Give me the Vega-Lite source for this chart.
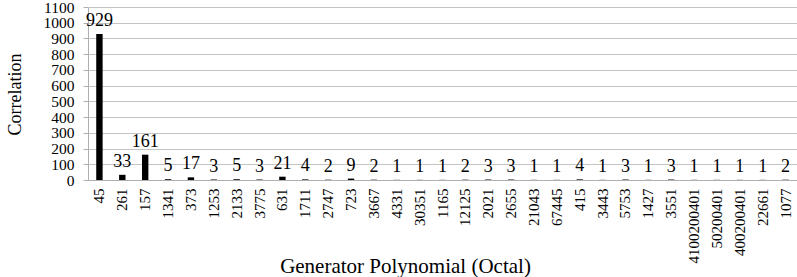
{
  "$schema": "https://vega.github.io/schema/vega-lite/v6.json",
  "width": 709,
  "height": 173,
  "autosize": {"type": "none"},
  "padding": {"left": 88, "top": 7, "right": 0, "bottom": 97},
  "background": "white",
  "config": {"font": "Liberation Serif", "view": {"stroke": null}},
  "data": {"values": [
    {"g": "45", "c": 929}, {"g": "261", "c": 33}, {"g": "157", "c": 161}, {"g": "1341", "c": 5},
    {"g": "373", "c": 17}, {"g": "1253", "c": 3}, {"g": "2133", "c": 5}, {"g": "3775", "c": 3},
    {"g": "631", "c": 21}, {"g": "1711", "c": 4}, {"g": "2747", "c": 2}, {"g": "723", "c": 9},
    {"g": "3667", "c": 2}, {"g": "4331", "c": 1}, {"g": "30351", "c": 1}, {"g": "1165", "c": 1},
    {"g": "12125", "c": 2}, {"g": "2021", "c": 3}, {"g": "2655", "c": 3}, {"g": "21043", "c": 1},
    {"g": "67445", "c": 1}, {"g": "415", "c": 4}, {"g": "3443", "c": 1}, {"g": "5753", "c": 3},
    {"g": "1427", "c": 1}, {"g": "3551", "c": 3}, {"g": "4100200401", "c": 1}, {"g": "50200401", "c": 1},
    {"g": "400200401", "c": 1}, {"g": "22661", "c": 1}, {"g": "1077", "c": 2}
  ]},
  "encoding": {
    "x": {"field": "g", "type": "nominal", "sort": null,
      "scale": {"paddingInner": 0.72, "paddingOuter": 0.36},
      "axis": {"title": "Generator Polynomial (Octal)", "titleFont": "Liberation Serif", "titleFontSize": 21, "titleFontWeight": "normal", "titleColor": "black",
        "titleX": 317, "titleY": 86, "titleBaseline": "middle", "titleAlign": "center",
        "labelAngle": -90, "labelFontSize": 15, "labelColor": "black", "labelPadding": 8, "ticks": false,
        "domainColor": "#b0b0b0", "labelBaseline": "middle", "labelAlign": "right"}},
    "y": {"field": "c", "type": "quantitative",
       "scale": {"domain": [0, 1100], "nice": false},
       "axis": {"values": [0,100,200,300,400,500,600,700,800,900,1000,1100], "format": "d", "labelOverlap": false, "labelFlush": false,
         "title": "Correlation", "titleFont": "Liberation Serif", "titleFontSize": 18, "titleFontWeight": "normal", "titleColor": "black",
         "titleX": -73, "titleY": 87, "titleAngle": -90, "titleBaseline": "middle", "titleAlign": "center",
         "labelFontSize": 15.5, "labelColor": "black", "labelPadding": 9, "ticks": true, "tickSize": 5, "tickColor": "#b0b0b0",
         "domainColor": "#b0b0b0", "gridColor": "#c4c4c4", "grid": true}}
  },
  "layer": [
    {"mark": {"type": "bar", "color": "black"}},
    {"mark": {"type": "text", "baseline": "bottom", "dy": -4, "fontSize": 18, "color": "black", "font": "Liberation Serif"},
     "encoding": {"text": {"field": "c", "type": "quantitative"}}}
  ]
}
